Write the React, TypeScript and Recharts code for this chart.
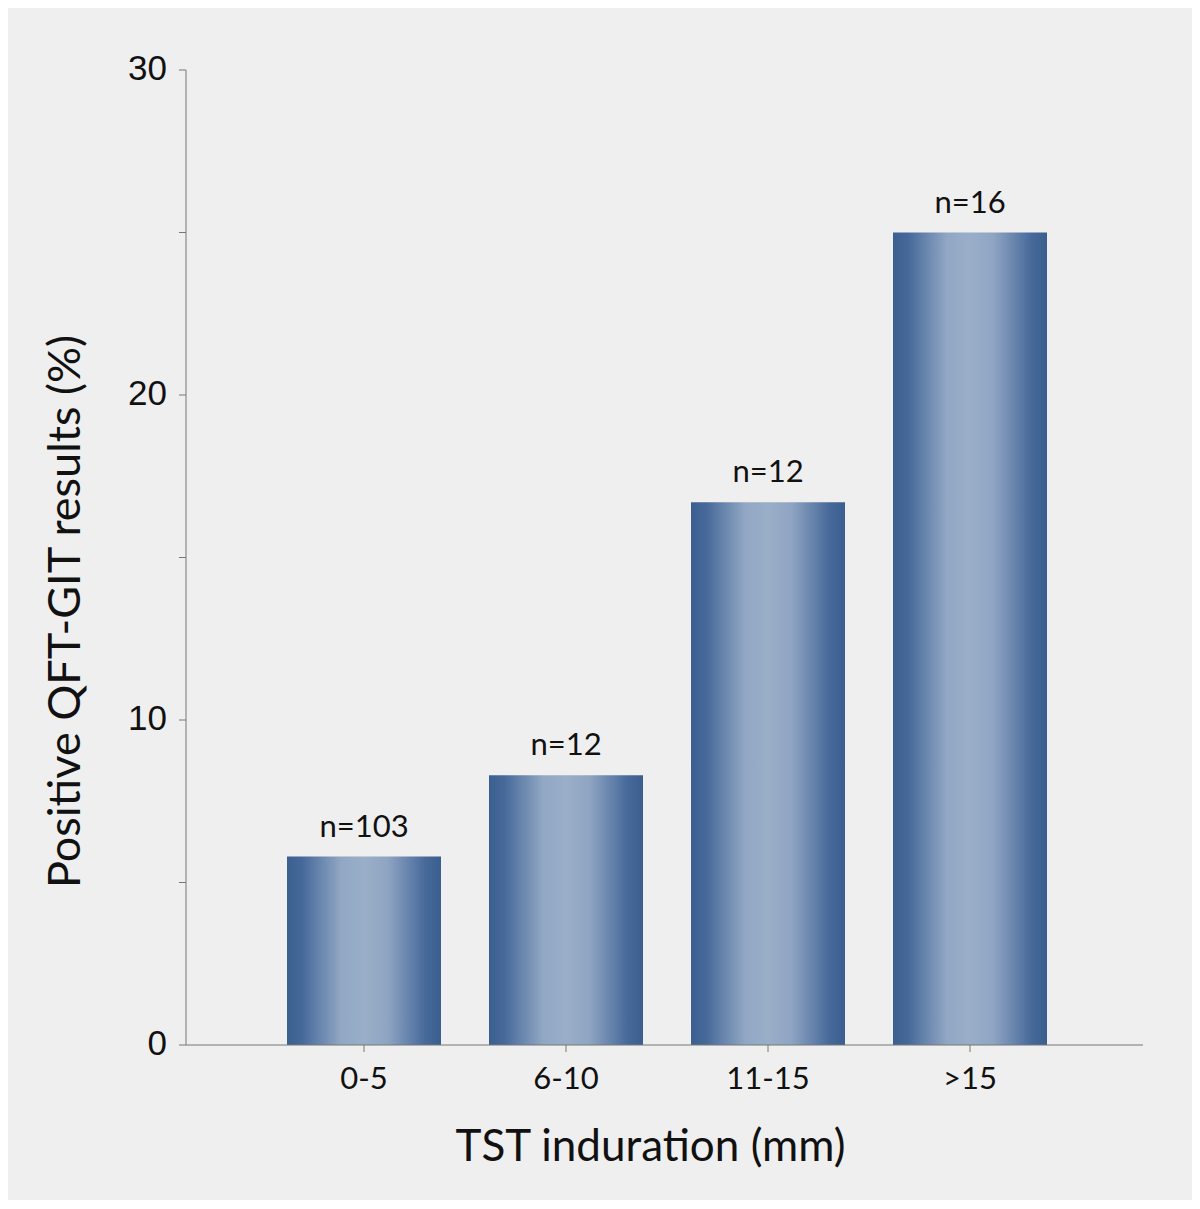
import { BarChart, Bar, XAxis, YAxis, LabelList, Label } from "recharts"

const categories = ["0-5", "6-10", "11-15", ">15"]
const positivePct = [5.8, 8.3, 16.7, 25]
const sampleLabels = ["n=103", "n=12", "n=12", "n=16"]
const yTicks = [0, 5, 10, 15, 20, 25, 30]

const data = categories.map((c, i) => ({
  tst: c,
  pct: positivePct[i],
  n: sampleLabels[i],
}))

const gill = "'Lato', 'Open Sans', sans-serif"

function YTick(props: any) {
  const { x, y, payload } = props
  if (payload.value % 10 !== 0) return null
  return (
    <text
      x={x - 10}
      y={y - 3}
      textAnchor="end"
      dominantBaseline="central"
      fontFamily="'Liberation Sans', Arial, sans-serif"
      fontSize={35}
      fill="#111"
    >
      {payload.value}
    </text>
  )
}

function YTitle(props: any) {
  const { viewBox } = props
  const cx = 55
  const cy = viewBox.y + viewBox.height / 2 + 54
  return (
    <text
      x={cx}
      y={cy}
      transform={`rotate(-90, ${cx}, ${cy})`}
      textAnchor="middle"
      dominantBaseline="central"
      fontFamily={gill}
      fontSize={45}
      fill="#111"
    >
      Positive QFT-GIT results (%)
    </text>
  )
}

export default function App() {
  return (
    <div style={{ width: 1184, height: 1192, background: "#efefef" }}>
      <BarChart
        width={1184}
        height={1192}
        data={data}
        margin={{ top: 62, right: 49, bottom: 95, left: 98 }}
        barSize={154}
      >
        <defs>
          <linearGradient id="barGrad" x1="0" y1="0" x2="1" y2="0">
            <stop offset="0%" stopColor="#3b5f8f" />
            <stop offset="10%" stopColor="#46699a" />
            <stop offset="35%" stopColor="#91a7c4" />
            <stop offset="50%" stopColor="#9aaec8" />
            <stop offset="65%" stopColor="#90a5c3" />
            <stop offset="90%" stopColor="#46699a" />
            <stop offset="100%" stopColor="#3a5e8e" />
          </linearGradient>
        </defs>
        <XAxis
          dataKey="tst"
          height={60}
          padding={{ left: 77, right: 72 }}
          stroke="#777"
          tickSize={7}
          tick={{ fontFamily: gill, fontSize: 31, fill: "#111" }}
          tickMargin={15}
        >
          <Label
            value="TST induration (mm)"
            position="bottom"
            offset={25}
            dx={-14}
            style={{ fontFamily: gill, fontSize: 44, fill: "#111" }}
          />
        </XAxis>
        <YAxis
          width={80}
          domain={[0, 30]}
          ticks={yTicks}
          interval={0}
          stroke="#777"
          tickSize={7}
          tick={<YTick />}
        >
          <Label content={<YTitle />} />
        </YAxis>
        <Bar dataKey="pct" fill="url(#barGrad)" isAnimationActive={false}>
          <LabelList
            dataKey="n"
            position="top"
            offset={20}
            style={{ fontFamily: gill, fontSize: 31, fill: "#111" }}
          />
        </Bar>
      </BarChart>
    </div>
  )
}
